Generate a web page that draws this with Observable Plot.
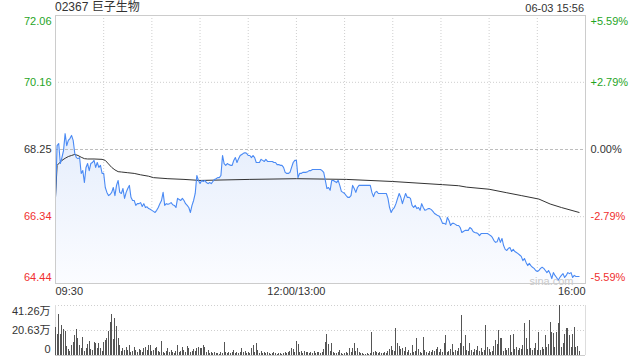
<!DOCTYPE html>
<html><head><meta charset="utf-8">
<script src="https://cdn.jsdelivr.net/npm/d3@7"></script>
<script src="https://cdn.jsdelivr.net/npm/@observablehq/plot@0.6"></script>
<style>
body{margin:0;background:#fff;font-family:"Liberation Sans",Arial,"Noto Sans CJK SC",sans-serif;}
#wrap{position:relative;width:640px;height:360px;overflow:hidden}
#title{position:absolute;left:55px;top:0;font-size:12px;line-height:14px;color:#333;white-space:nowrap}
#date{position:absolute;right:56px;top:0.5px;font-size:11px;line-height:14px;color:#333;white-space:nowrap}
#main{position:absolute;left:0;top:0}
#vol{position:absolute;left:0;top:300px}
svg{display:block}
</style></head><body>
<div id="wrap"><div id="main"></div><div id="vol"></div><div id="title"></div><div id="date"></div></div>
<script>
const stockTitle = "02367 巨子生物";
const stamp = "06-03 15:56";
const prevClose = 68.25;
const priceTicks = [72.06, 70.16, 68.25, 66.34, 64.44];
const priceTickLabels = ["72.06", "70.16", "68.25", "66.34", "64.44"];
const pctTickLabels = ["+5.59%", "+2.79%", "0.00%", "-2.79%", "-5.59%"];
const timeTicks = [0, 150, 330];
const timeTickLabels = ["09:30", "12:00/13:00", "16:00"];
const gridMinutes = [30, 60, 90, 120, 150, 180, 210, 240, 270, 300];
const volTicks = [41.26, 20.63, 0];
const volTickLabels = ["41.26万", "20.63万", "0"];

// price per minute from 09:30 (index 150 = 12:00, 151 = 13:01)
const prices = [
66.89,68.36,68.42,67.85,68.02,68.22,68.70,68.36,68.51,68.56,
68.65,68.51,68.14,68.02,67.99,68.02,67.57,67.65,67.31,67.74,
67.85,67.65,67.85,67.88,67.94,67.74,67.88,67.74,67.80,67.57,
67.57,67.17,67.03,66.94,66.97,67.03,67.17,66.94,67.23,67.37,
67.03,67.00,67.14,66.86,67.03,67.14,67.23,66.89,66.80,66.80,
66.66,66.71,66.71,66.74,66.63,66.71,66.60,66.62,66.57,66.55,
66.52,66.49,66.46,66.52,66.60,66.71,66.80,67.03,66.66,66.71,
66.69,66.71,66.74,66.68,66.66,66.60,66.86,66.83,66.80,66.86,
66.80,66.71,66.66,66.60,66.46,66.66,66.80,67.00,67.51,67.37,
67.28,67.37,67.34,67.37,67.31,67.28,67.31,67.28,67.34,67.40,
67.42,67.45,67.45,67.51,68.08,67.85,67.80,67.85,67.82,67.80,
67.80,67.94,68.02,67.88,67.99,68.08,68.11,68.14,68.16,68.14,
68.08,68.08,68.02,68.08,68.02,67.88,67.88,67.88,67.97,67.94,
67.91,67.97,67.91,67.91,67.91,67.91,67.88,67.88,67.82,67.82,
67.80,67.80,67.74,67.60,67.57,67.57,67.60,67.74,67.88,67.94,
67.94,
67.45,67.57,67.57,67.60,67.60,67.60,67.62,67.65,67.65,67.68,
67.68,67.68,67.68,67.68,67.68,67.65,67.60,67.37,67.14,67.17,
67.09,67.37,67.37,67.34,67.31,67.37,67.23,67.06,67.03,67.00,
66.94,66.89,66.89,66.94,67.23,67.14,67.03,67.17,67.23,67.23,
67.23,67.23,67.23,67.23,67.23,67.23,67.03,66.91,67.03,67.06,
67.00,67.00,67.00,67.00,67.00,67.00,66.86,66.60,66.46,66.55,
66.60,66.71,66.86,67.00,66.89,66.71,66.86,67.00,66.89,66.89,
66.86,66.66,66.60,66.66,66.57,66.60,66.52,66.71,66.60,66.52,
66.54,66.57,66.57,66.54,66.49,66.43,66.40,66.37,66.35,66.26,
66.15,66.15,66.12,66.32,66.23,66.09,66.15,66.15,66.12,66.09,
66.09,66.03,65.89,65.92,65.95,65.95,65.95,66.03,66.00,65.92,
65.89,65.88,65.86,65.80,65.86,65.86,65.86,65.86,65.86,65.83,
65.80,65.75,65.66,65.61,65.63,65.75,65.61,65.72,65.52,65.41,
65.38,65.44,65.46,65.35,65.41,65.35,65.32,65.29,65.25,65.21,
65.09,65.15,65.04,64.95,65.01,64.95,64.90,64.87,64.81,64.78,
64.81,64.87,64.90,64.87,64.81,64.75,64.81,64.72,64.58,64.75,
64.67,64.61,64.53,64.61,64.67,64.72,64.61,64.67,64.75,64.72,
64.75,64.61,64.67,64.64,64.64,64.64
];

// average price line (read at these minutes)
const avgMinutes = [0,1,4,6,8,10,12,14,16,18,20,24,29,31,33,35,37,39,41,45,49,53,58,61,70,80,90,121,150,181,210,241,251,256,270,281,290,301,308,315,326];
const avgPrices  = [66.89,67.80,67.94,68.00,68.05,68.08,68.11,68.08,68.03,67.99,67.98,67.98,67.97,67.94,67.84,67.74,67.67,67.62,67.61,67.59,67.57,67.53,67.49,67.45,67.42,67.40,67.37,67.40,67.42,67.40,67.34,67.25,67.22,67.18,67.12,67.02,66.94,66.84,66.70,66.60,66.46];

// volume per minute, in 万
const volumes = [
23.1,17.3,33.8,17.3,24.8,21.5,19.8,7.4,5.0,3.3,
8.3,10.7,16.5,21.5,14.0,8.3,5.8,14.9,3.3,5.8,
9.1,11.6,5.0,4.1,10.7,9.9,5.8,9.9,5.8,3.3,
10.7,12.4,14.0,19.8,27.2,33.8,13.2,30.5,23.9,14.0,
8.3,3.3,5.8,4.1,6.6,4.1,8.3,2.5,3.3,6.6,
4.1,2.5,5.0,4.1,2.5,5.8,6.6,4.1,8.3,8.3,
3.3,4.1,5.8,6.6,3.3,2.5,11.6,2.5,1.7,3.3,
5.8,2.5,4.1,2.5,1.7,3.3,8.3,2.5,3.3,6.6,
4.1,2.5,7.4,5.8,2.5,3.3,5.0,3.3,5.8,6.6,
5.8,5.8,8.3,6.6,2.5,4.1,1.7,2.5,1.7,2.5,
1.7,1.7,0.8,2.5,1.7,10.7,2.5,1.7,2.5,1.7,
2.5,4.1,1.7,2.5,1.7,2.5,5.8,2.5,3.3,1.7,
2.5,1.7,5.8,8.3,2.5,9.9,4.1,1.7,3.3,1.7,
2.5,1.7,2.5,1.7,0.8,1.7,2.5,1.7,0.8,1.7,
1.7,0.8,1.7,2.5,1.7,2.5,3.3,5.8,5.0,2.5,
11.6,9.1,2.5,3.3,1.7,3.3,2.5,2.5,1.7,2.5,
1.7,3.3,1.7,2.5,2.5,1.7,2.5,5.0,10.7,17.3,
9.1,3.3,9.9,2.5,1.7,1.7,2.5,4.1,1.7,0.8,
1.7,2.5,1.7,5.8,2.5,5.8,9.9,3.3,5.8,2.5,
1.7,1.7,0.8,0.8,1.7,0.8,1.7,19.0,2.5,3.3,
2.5,1.7,2.5,1.7,1.7,2.5,1.7,3.3,5.0,7.4,
4.1,3.3,22.3,9.9,7.4,5.0,5.8,3.3,6.6,2.5,
4.1,1.7,8.3,2.5,3.3,14.0,5.0,2.5,1.7,14.9,
4.1,2.5,1.7,3.3,2.5,4.1,3.3,5.0,6.6,2.5,
5.0,2.5,9.9,16.5,2.5,3.3,5.0,9.1,2.5,4.1,
3.3,5.8,9.9,33.0,7.4,16.5,4.1,3.3,9.9,4.1,
2.5,5.0,4.1,7.4,3.3,5.8,2.5,4.1,24.8,6.6,
5.0,2.5,3.3,7.4,12.4,9.1,20.6,14.0,14.0,3.3,
5.8,4.1,5.8,16.5,2.5,17.3,5.0,6.6,4.1,5.8,
5.0,8.3,26.4,14.0,5.0,28.9,5.8,4.1,5.8,9.9,
4.1,19.0,4.1,6.6,5.0,16.5,6.6,9.1,27.2,19.0,
18.2,6.6,19.0,26.4,41.2,6.6,9.9,17.3,22.3,22.3,
16.5,6.6,17.3,23.1,6.6,7.4,3.3
];

document.getElementById("title").textContent = stockTitle;
document.getElementById("date").textContent = stamp;

const GREEN = "#1fa51f", RED = "#f0302f", DARK = "#333";
const colorFor = v => v > prevClose + 1e-9 ? GREEN : v < prevClose - 1e-9 ? RED : DARK;
const FONT = "Liberation Sans, Arial, Noto Sans CJK SC, sans-serif";

const priceRows = prices.map((p, m) => ({m, p}));
const avgRows = avgMinutes.map((m, i) => ({m, p: avgPrices[i]}));
const volRows = volumes.map((v, m) => ({m, v}));
const ticks = priceTicks.map((v, i) => ({v, label: priceTickLabels[i], pct: pctTickLabels[i], i}));
const tickGroups = [
  {rows: ticks.filter(d => d.i === 0), lineAnchor: "top", dy: 2},
  {rows: ticks.filter(d => d.i > 0 && d.i < 4), lineAnchor: "middle", dy: 0},
  {rows: ticks.filter(d => d.i === 4), lineAnchor: "bottom", dy: -3}
];
const yLabelMarks = tickGroups.flatMap(g => [
  Plot.text(g.rows, {y: "v", text: "label", frameAnchor: "left", textAnchor: "end", dx: -4, dy: g.dy, lineAnchor: g.lineAnchor, fill: d => colorFor(d.v), fontSize: 11}),
  Plot.text(g.rows, {y: "v", text: "pct", frameAnchor: "right", textAnchor: "start", dx: 5, dy: g.dy, lineAnchor: g.lineAnchor, fill: d => colorFor(d.v), fontSize: 11})
]);
const anchors = ["start", "middle", "end"];
const xLabelMarks = timeTicks.map((t, i) =>
  Plot.text([{t, s: timeTickLabels[i]}], {x: "t", text: "s", frameAnchor: "bottom", lineAnchor: "top", dy: 4, textAnchor: anchors[i], fill: DARK, fontSize: 11})
);

const main = Plot.plot({
  width: 640, height: 300,
  marginLeft: 55, marginRight: 55, marginTop: 15, marginBottom: 17,
  x: {domain: [0, 330], axis: null},
  y: {domain: [64.44, 72.06], axis: null},
  color: {type: "identity"},
  style: {fontFamily: FONT, fontSize: "11px", background: "transparent", overflow: "visible"},
  marks: [
    Plot.ruleY([priceTicks[1], priceTicks[3]], {stroke: "#cfcfcf", strokeDasharray: "1,2"}),
    Plot.ruleX(gridMinutes, {stroke: "#cfcfcf", strokeDasharray: "1,2"}),
    Plot.areaY(priceRows, {x: "m", y1: priceTicks[4], y2: "p", fill: "url(#pgrad)"}),
    Plot.ruleY([prevClose], {stroke: "#bdbdbd", strokeDasharray: "3,2"}),
    Plot.line(avgRows, {x: "m", y: "p", stroke: "#333", strokeWidth: 1}),
    Plot.line(priceRows, {x: "m", y: "p", stroke: "#4a8af4", strokeWidth: 1.1}),
    Plot.frame({stroke: "#cccccc"}),
    Plot.text(["sina.com"], {text: d => d, frameAnchor: "bottom-right", textAnchor: "end", lineAnchor: "bottom", dx: -12, dy: 1, fill: "#cacaca", fontSize: 11}),
    ...yLabelMarks,
    ...xLabelMarks
  ]
});
d3.select(main).insert("defs", ":first-child").html(
  '<linearGradient id="pgrad" gradientUnits="userSpaceOnUse" x1="0" y1="15" x2="0" y2="283">' +
  '<stop offset="0" stop-color="#d4e2fa"/><stop offset="1" stop-color="#fbfcff"/></linearGradient>');
document.getElementById("main").append(main);

const volGroups = [
  {idx: [0], lineAnchor: "top", dy: 2},
  {idx: [1], lineAnchor: "middle", dy: 0},
  {idx: [2], lineAnchor: "bottom", dy: -3}
];
const vol = Plot.plot({
  width: 640, height: 60,
  marginLeft: 55, marginRight: 55, marginTop: 5, marginBottom: 5,
  x: {domain: [0, 330], axis: null},
  y: {domain: [0, volTicks[0]], axis: null},
  style: {fontFamily: FONT, fontSize: "11px", background: "transparent", overflow: "visible"},
  marks: [
    Plot.ruleY(volTicks.slice(0, 2), {stroke: "#cfcfcf", strokeDasharray: "1,2"}),
    Plot.ruleX([0, 330], {stroke: "#dddddd"}),
    Plot.ruleX(volRows, {x: "m", y1: 0, y2: "v", stroke: "#555", strokeWidth: 1, shapeRendering: "crispEdges"}),
    Plot.ruleY([0], {stroke: "#cccccc"}),
    ...volGroups.map(g => Plot.text(g.idx.map(i => ({v: volTicks[i], s: volTickLabels[i]})), {y: "v", text: "s", frameAnchor: "left", textAnchor: "end", dx: -5, dy: g.dy, lineAnchor: g.lineAnchor, fill: DARK, fontSize: 11}))
  ]
});
document.getElementById("vol").append(vol);
</script>
</body></html>
